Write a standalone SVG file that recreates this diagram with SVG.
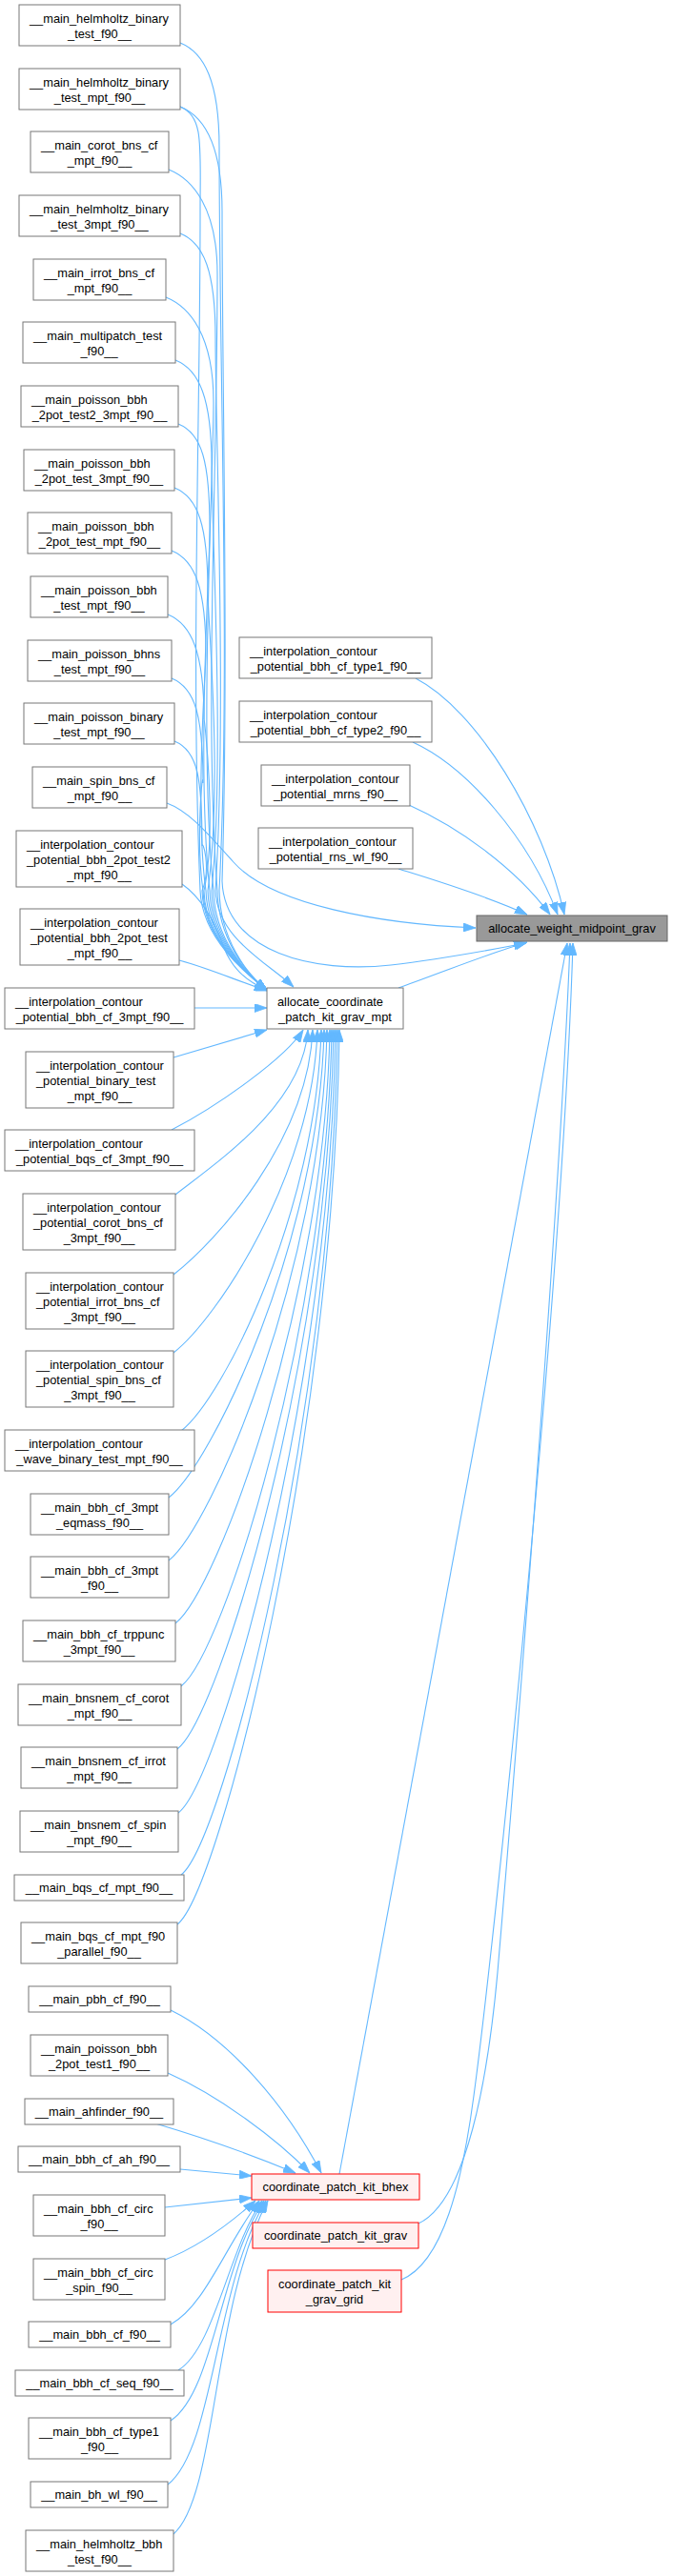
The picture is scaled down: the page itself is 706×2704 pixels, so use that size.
<svg xmlns="http://www.w3.org/2000/svg" width="706" height="2704" viewBox="0 0 706 2704">
<defs>
<marker id="arr" markerWidth="13" markerHeight="9" refX="13" refY="4.5" orient="auto" markerUnits="userSpaceOnUse"><path d="M0,0 L13,4.5 L0,9 z" fill="#63B8FF" stroke="#63B8FF" stroke-width="0.8"/></marker>
</defs>
<style>
.n rect{fill:#ffffff;stroke:#777777;stroke-width:1}
.r rect{fill:#FFF0F0;stroke:#FF0000;stroke-width:1}
.t rect{fill:#999999;stroke:#666666;stroke-width:1}
text{font-family:"Liberation Sans",Arial,Helvetica,sans-serif;font-size:12.8px;fill:#000000}
.m{text-anchor:middle}
#edges path{fill:none;stroke:#63B8FF;stroke-width:1.1;marker-end:url(#arr)}
</style>
<rect width="706" height="2704" fill="#ffffff"/>
<g id="edges">
<path d="M189,45 C214,55 230,85 230,155 C230,400 242,700 230,935 C231,985 258,1022 280,1039"/>
<path d="M189,112 C214,122 210,152 210,222 C210,450 200,700 210,935 C212,985 258,1022 280,1039"/>
<path d="M189,112 C214,122 233,152 233,222 C233,400 240,700 233,925 C236,1000 330,1022 410,1013 C470,1006 520,996 552,990"/>
<path d="M177,178 C202,188 228,218 228,288 C228,500 214,750 228,935 C229,985 258,1022 280,1039"/>
<path d="M189,245 C214,255 226,285 226,355 C226,450 238,750 226,935 C228,985 280,1010 308,1036"/>
<path d="M174,312 C199,322 224,352 224,422 C224,500 208,780 224,935 C225,985 258,1022 280,1039"/>
<path d="M184,378 C209,388 222,418 222,488 C222,550 236,800 222,935 C223,985 258,1022 280,1039"/>
<path d="M187,445 C212,455 220,485 220,555 C220,600 206,800 220,935 C221,985 258,1022 280,1039"/>
<path d="M183,512 C208,522 218,552 218,622 C218,650 234,820 218,935 C219,985 258,1022 280,1039"/>
<path d="M180,578 C205,588 216,618 216,688 C216,700 204,850 216,935 C217,985 258,1022 280,1039"/>
<path d="M176,645 C201,655 214,685 214,755 C214,750 228,870 214,935 C215,985 258,1022 280,1039"/>
<path d="M180,712 C205,722 213,752 213,822 C213,800 205,880 213,935 C214,985 258,1022 280,1039"/>
<path d="M183,778 C208,788 212,818 212,888 C212,880 222,910 212,935 C213,985 258,1022 280,1039"/>
<path d="M175,843 C200,852 222,880 245,905 C285,950 400,970 499,974"/>
<path d="M191,928 C215,945 228,975 235,995 C245,1020 262,1032 280,1039"/>
<path d="M188,1008 C215,1015 245,1028 280,1040"/>
<path d="M204,1058 L280,1058"/>
<path d="M182,1110 L280,1081"/>
<path d="M180,1186 C230,1160 300,1110 318,1081"/>
<path d="M184,1254 C229,1219 318,1159 323,1081"/>
<path d="M182,1338 C227,1303 323,1197 328,1081"/>
<path d="M182,1420 C227,1385 328,1234 333,1081"/>
<path d="M190,1502 C235,1467 332,1270 337,1081"/>
<path d="M177,1572 C222,1537 335,1302 340,1081"/>
<path d="M177,1638 C222,1603 338,1332 343,1081"/>
<path d="M184,1704 C229,1669 341,1361 346,1081"/>
<path d="M190,1770 C235,1735 343,1391 348,1081"/>
<path d="M186,1836 C231,1801 345,1421 350,1081"/>
<path d="M187,1903 C232,1868 347,1451 352,1081"/>
<path d="M190,1968 C235,1933 349,1480 354,1081"/>
<path d="M186,2020 C231,1985 351,1504 356,1081"/>
<path d="M179,2110 C240,2140 300,2210 337,2281"/>
<path d="M176,2176 C230,2200 290,2245 325,2281"/>
<path d="M163,2229 C200,2240 260,2260 310,2281"/>
<path d="M189,2277 L264,2284"/>
<path d="M173,2317 L264,2307"/>
<path d="M173,2372 C205,2360 240,2335 268,2310"/>
<path d="M179,2440 C215,2420 235,2360 272,2310"/>
<path d="M187,2488 C225,2465 240,2360 275,2310"/>
<path d="M179,2541 C225,2510 230,2380 277,2310"/>
<path d="M176,2608 C225,2570 225,2400 279,2310"/>
<path d="M182,2660 C228,2620 222,2420 281,2310"/>
<path d="M436,712 C500,745 570,860 592,960"/>
<path d="M433,779 C490,805 555,880 585,960"/>
<path d="M429,845 C480,868 540,910 577,960"/>
<path d="M418,912 C450,922 510,940 553,960"/>
<path d="M418,1037 C460,1022 515,1000 553,989"/>
<path d="M356,2282 L595,990"/>
<path d="M439,2334 C490,2310 512,2180 522,2070 C545,1800 588,1250 598,990"/>
<path d="M421,2393 C465,2375 485,2290 497,2200 C520,2030 590,1350 601,990"/>
</g>
<g id="node_main_helmholtz_binary_test" class="n"><rect x="20" y="5" width="169" height="43"/><text x="31" y="24">__main_helmholtz_binary</text><text class="m" x="104.5" y="40">_test_f90__</text></g>
<g id="node_main_helmholtz_binary_test_mpt" class="n"><rect x="20" y="72" width="169" height="43"/><text x="31" y="91">__main_helmholtz_binary</text><text class="m" x="104.5" y="107">_test_mpt_f90__</text></g>
<g id="node_main_corot_bns_cf_mpt" class="n"><rect x="32" y="138" width="145" height="43"/><text x="43" y="157">__main_corot_bns_cf</text><text class="m" x="104.5" y="173">_mpt_f90__</text></g>
<g id="node_main_helmholtz_binary_test_3mpt" class="n"><rect x="20" y="205" width="169" height="43"/><text x="31" y="224">__main_helmholtz_binary</text><text class="m" x="104.5" y="240">_test_3mpt_f90__</text></g>
<g id="node_main_irrot_bns_cf_mpt" class="n"><rect x="35" y="272" width="139" height="43"/><text x="46" y="291">__main_irrot_bns_cf</text><text class="m" x="104.5" y="307">_mpt_f90__</text></g>
<g id="node_main_multipatch_test" class="n"><rect x="24" y="338" width="160" height="43"/><text x="35" y="357">__main_multipatch_test</text><text class="m" x="104" y="373">_f90__</text></g>
<g id="node_main_poisson_bbh_2pot_test2_3mpt" class="n"><rect x="22" y="405" width="165" height="43"/><text x="33" y="424">__main_poisson_bbh</text><text class="m" x="104.5" y="440">_2pot_test2_3mpt_f90__</text></g>
<g id="node_main_poisson_bbh_2pot_test_3mpt" class="n"><rect x="25" y="472" width="158" height="43"/><text x="36" y="491">__main_poisson_bbh</text><text class="m" x="104" y="507">_2pot_test_3mpt_f90__</text></g>
<g id="node_main_poisson_bbh_2pot_test_mpt" class="n"><rect x="29" y="538" width="151" height="43"/><text x="40" y="557">__main_poisson_bbh</text><text class="m" x="104.5" y="573">_2pot_test_mpt_f90__</text></g>
<g id="node_main_poisson_bbh_test_mpt" class="n"><rect x="32" y="605" width="144" height="43"/><text x="43" y="624">__main_poisson_bbh</text><text class="m" x="104" y="640">_test_mpt_f90__</text></g>
<g id="node_main_poisson_bhns_test_mpt" class="n"><rect x="29" y="672" width="151" height="43"/><text x="40" y="691">__main_poisson_bhns</text><text class="m" x="104.5" y="707">_test_mpt_f90__</text></g>
<g id="node_main_poisson_binary_test_mpt" class="n"><rect x="25" y="738" width="158" height="43"/><text x="36" y="757">__main_poisson_binary</text><text class="m" x="104" y="773">_test_mpt_f90__</text></g>
<g id="node_main_spin_bns_cf_mpt" class="n"><rect x="34" y="805" width="141" height="43"/><text x="45" y="824">__main_spin_bns_cf</text><text class="m" x="104.5" y="840">_mpt_f90__</text></g>
<g id="node_ic_bbh_2pot_test2_mpt" class="n"><rect x="17" y="872" width="174" height="59"/><text x="28" y="891">__interpolation_contour</text><text x="28" y="907">_potential_bbh_2pot_test2</text><text class="m" x="104" y="923">_mpt_f90__</text></g>
<g id="node_ic_bbh_2pot_test_mpt" class="n"><rect x="21" y="954" width="167" height="59"/><text x="32" y="973">__interpolation_contour</text><text x="32" y="989">_potential_bbh_2pot_test</text><text class="m" x="104.5" y="1005">_mpt_f90__</text></g>
<g id="node_ic_bbh_cf_3mpt" class="n"><rect x="5" y="1037" width="199" height="43"/><text x="16" y="1056">__interpolation_contour</text><text class="m" x="104.5" y="1072">_potential_bbh_cf_3mpt_f90__</text></g>
<g id="node_ic_binary_test_mpt" class="n"><rect x="27" y="1104" width="155" height="59"/><text x="38" y="1123">__interpolation_contour</text><text x="38" y="1139">_potential_binary_test</text><text class="m" x="104.5" y="1155">_mpt_f90__</text></g>
<g id="node_ic_bqs_cf_3mpt" class="n"><rect x="5" y="1186" width="199" height="43"/><text x="16" y="1205">__interpolation_contour</text><text class="m" x="104.5" y="1221">_potential_bqs_cf_3mpt_f90__</text></g>
<g id="node_ic_corot_bns_cf_3mpt" class="n"><rect x="24" y="1253" width="160" height="59"/><text x="35" y="1272">__interpolation_contour</text><text x="35" y="1288">_potential_corot_bns_cf</text><text class="m" x="104" y="1304">_3mpt_f90__</text></g>
<g id="node_ic_irrot_bns_cf_3mpt" class="n"><rect x="27" y="1336" width="155" height="59"/><text x="38" y="1355">__interpolation_contour</text><text x="38" y="1371">_potential_irrot_bns_cf</text><text class="m" x="104.5" y="1387">_3mpt_f90__</text></g>
<g id="node_ic_spin_bns_cf_3mpt" class="n"><rect x="27" y="1418" width="155" height="59"/><text x="38" y="1437">__interpolation_contour</text><text x="38" y="1453">_potential_spin_bns_cf</text><text class="m" x="104.5" y="1469">_3mpt_f90__</text></g>
<g id="node_ic_wave_binary_test_mpt" class="n"><rect x="5" y="1501" width="199" height="43"/><text x="16" y="1520">__interpolation_contour</text><text class="m" x="104.5" y="1536">_wave_binary_test_mpt_f90__</text></g>
<g id="node_main_bbh_cf_3mpt_eqmass" class="n"><rect x="32" y="1568" width="145" height="43"/><text x="43" y="1587">__main_bbh_cf_3mpt</text><text class="m" x="104.5" y="1603">_eqmass_f90__</text></g>
<g id="node_main_bbh_cf_3mpt" class="n"><rect x="32" y="1634" width="145" height="43"/><text x="43" y="1653">__main_bbh_cf_3mpt</text><text class="m" x="104.5" y="1669">_f90__</text></g>
<g id="node_main_bbh_cf_trppunc_3mpt" class="n"><rect x="24" y="1701" width="160" height="43"/><text x="35" y="1720">__main_bbh_cf_trppunc</text><text class="m" x="104" y="1736">_3mpt_f90__</text></g>
<g id="node_main_bnsnem_cf_corot_mpt" class="n"><rect x="19" y="1768" width="171" height="43"/><text x="30" y="1787">__main_bnsnem_cf_corot</text><text class="m" x="104.5" y="1803">_mpt_f90__</text></g>
<g id="node_main_bnsnem_cf_irrot_mpt" class="n"><rect x="22" y="1834" width="164" height="43"/><text x="33" y="1853">__main_bnsnem_cf_irrot</text><text class="m" x="104" y="1869">_mpt_f90__</text></g>
<g id="node_main_bnsnem_cf_spin_mpt" class="n"><rect x="21" y="1901" width="166" height="43"/><text x="32" y="1920">__main_bnsnem_cf_spin</text><text class="m" x="104" y="1936">_mpt_f90__</text></g>
<g id="node_main_bqs_cf_mpt" class="n"><rect x="15" y="1968" width="178" height="27"/><text class="m" x="104" y="1985.5">__main_bqs_cf_mpt_f90__</text></g>
<g id="node_main_bqs_cf_mpt_parallel" class="n"><rect x="22" y="2018" width="164" height="43"/><text x="33" y="2037">__main_bqs_cf_mpt_f90</text><text class="m" x="104" y="2053">_parallel_f90__</text></g>
<g id="node_main_pbh_cf" class="n"><rect x="30" y="2085" width="149" height="27"/><text class="m" x="104.5" y="2102.5">__main_pbh_cf_f90__</text></g>
<g id="node_main_poisson_bbh_2pot_test1" class="n"><rect x="32" y="2136" width="144" height="43"/><text x="43" y="2155">__main_poisson_bbh</text><text class="m" x="104" y="2171">_2pot_test1_f90__</text></g>
<g id="node_main_ahfinder" class="n"><rect x="26" y="2203" width="156" height="27"/><text class="m" x="104" y="2220.5">__main_ahfinder_f90__</text></g>
<g id="node_main_bbh_cf_ah" class="n"><rect x="19" y="2253" width="170" height="27"/><text class="m" x="104" y="2270.5">__main_bbh_cf_ah_f90__</text></g>
<g id="node_main_bbh_cf_circ" class="n"><rect x="35" y="2304" width="138" height="43"/><text x="46" y="2323">__main_bbh_cf_circ</text><text class="m" x="104" y="2339">_f90__</text></g>
<g id="node_main_bbh_cf_circ_spin" class="n"><rect x="35" y="2371" width="138" height="43"/><text x="46" y="2390">__main_bbh_cf_circ</text><text class="m" x="104" y="2406">_spin_f90__</text></g>
<g id="node_main_bbh_cf" class="n"><rect x="30" y="2437" width="149" height="27"/><text class="m" x="104.5" y="2454.5">__main_bbh_cf_f90__</text></g>
<g id="node_main_bbh_cf_seq" class="n"><rect x="16" y="2488" width="177" height="27"/><text class="m" x="104.5" y="2505.5">__main_bbh_cf_seq_f90__</text></g>
<g id="node_main_bbh_cf_type1" class="n"><rect x="30" y="2538" width="149" height="43"/><text x="41" y="2557">__main_bbh_cf_type1</text><text class="m" x="104.5" y="2573">_f90__</text></g>
<g id="node_main_bh_wl" class="n"><rect x="32" y="2605" width="144" height="27"/><text class="m" x="104" y="2622.5">__main_bh_wl_f90__</text></g>
<g id="node_main_helmholtz_bbh_test" class="n"><rect x="27" y="2656" width="155" height="43"/><text x="38" y="2675">__main_helmholtz_bbh</text><text class="m" x="104.5" y="2691">_test_f90__</text></g>
<g id="node_ic_bbh_cf_type1" class="n"><rect x="251" y="669" width="202" height="43"/><text x="262" y="688">__interpolation_contour</text><text class="m" x="352" y="704">_potential_bbh_cf_type1_f90__</text></g>
<g id="node_ic_bbh_cf_type2" class="n"><rect x="251" y="736" width="202" height="43"/><text x="262" y="755">__interpolation_contour</text><text class="m" x="352" y="771">_potential_bbh_cf_type2_f90__</text></g>
<g id="node_ic_mrns" class="n"><rect x="274" y="803" width="156" height="43"/><text x="285" y="822">__interpolation_contour</text><text class="m" x="352" y="838">_potential_mrns_f90__</text></g>
<g id="node_ic_rns_wl" class="n"><rect x="271" y="869" width="162" height="43"/><text x="282" y="888">__interpolation_contour</text><text class="m" x="352" y="904">_potential_rns_wl_f90__</text></g>
<g id="node_allocate_coordinate_patch_kit_grav_mpt" class="n"><rect x="280" y="1037" width="143" height="43"/><text x="291" y="1056">allocate_coordinate</text><text class="m" x="351.5" y="1072">_patch_kit_grav_mpt</text></g>
<g id="node_coordinate_patch_kit_bhex" class="r"><rect x="264" y="2282" width="176" height="27"/><text class="m" x="352" y="2299.5">coordinate_patch_kit_bhex</text></g>
<g id="node_coordinate_patch_kit_grav" class="r"><rect x="265" y="2333" width="174" height="27"/><text class="m" x="352" y="2350.5">coordinate_patch_kit_grav</text></g>
<g id="node_coordinate_patch_kit_grav_grid" class="r"><rect x="281" y="2383" width="140" height="44"/><text x="292" y="2402">coordinate_patch_kit</text><text class="m" x="351" y="2418">_grav_grid</text></g>
<g id="node_allocate_weight_midpoint_grav" class="t"><rect x="500" y="961" width="200" height="27"/><text class="m" x="600" y="978.5">allocate_weight_midpoint_grav</text></g>
</svg>
